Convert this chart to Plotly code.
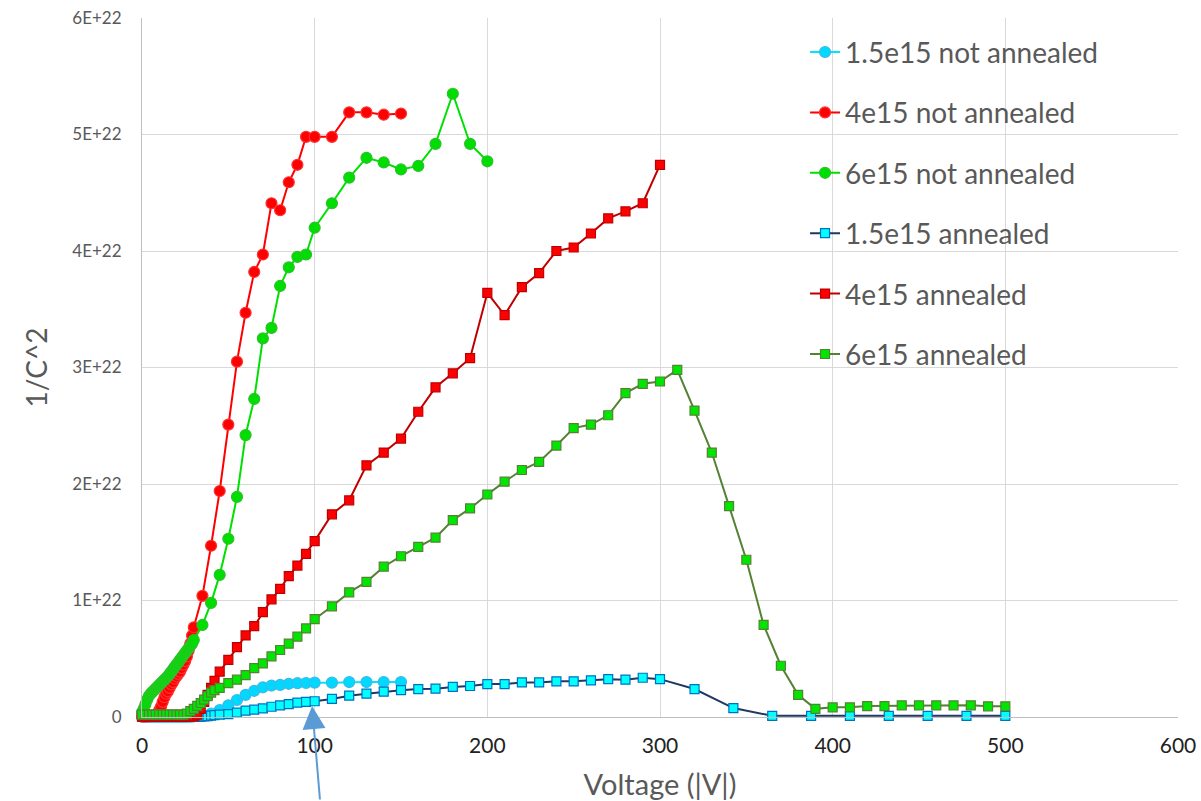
import plotly.graph_objects as go

# ---------------- data (1/C^2 in units of 1E22) ----------------
V_NA = list(range(0, 31)) + [35, 40, 45, 50, 55, 60, 65, 70, 75, 80, 85, 90, 95, 100,
                             110, 120, 130, 140, 150]
V_NA6 = V_NA + [160, 170, 180, 190, 200]

na15 = [0.002, 0.002, 0.002, 0.002, 0.002, 0.002, 0.002, 0.002, 0.002, 0.002, 0.002,
        0.002, 0.002, 0.002, 0.002, 0.002, 0.002, 0.002, 0.002, 0.002, 0.002, 0.002,
        0.002, 0.002, 0.002, 0.003, 0.003, 0.004, 0.004, 0.005, 0.006,
        0.012, 0.03, 0.06, 0.10, 0.146, 0.19, 0.225, 0.255, 0.27, 0.275, 0.285, 0.29,
        0.292, 0.295, 0.295, 0.30, 0.30, 0.30, 0.30]
na4 = [0.005, 0.005, 0.006, 0.006, 0.007, 0.008, 0.009, 0.012, 0.018, 0.03, 0.06,
       0.09, 0.13, 0.17, 0.20, 0.22, 0.25, 0.28, 0.30, 0.33, 0.35, 0.37, 0.39, 0.42,
       0.45, 0.48, 0.52, 0.57, 0.63, 0.70, 0.77,
       1.04, 1.47, 1.94, 2.51, 3.05, 3.47, 3.82, 3.97, 4.41, 4.35, 4.59, 4.74, 4.98,
       4.98, 4.98, 5.19, 5.19, 5.17, 5.18]
na6 = [0.04, 0.07, 0.11, 0.15, 0.18, 0.20, 0.215, 0.23, 0.245, 0.26, 0.275, 0.29,
       0.305, 0.32, 0.335, 0.35, 0.37, 0.39, 0.41, 0.43, 0.45, 0.47, 0.49, 0.51, 0.53,
       0.55, 0.57, 0.59, 0.61, 0.63, 0.66,
       0.79, 0.98, 1.22, 1.53, 1.89, 2.42, 2.73, 3.25, 3.34, 3.70, 3.86, 3.95, 3.97,
       4.20, 4.41, 4.63, 4.80, 4.76, 4.70, 4.73, 4.92, 5.35, 4.92, 4.77]

V_A = list(range(0, 44, 2)) + [45, 50, 55, 60, 65, 70, 75, 80, 85, 90, 95] + \
      list(range(100, 301, 10))
V_A15 = V_A + [320, 342.5, 365, 387.5, 410, 432.5, 455, 477.5, 500]
V_A6 = V_A + list(range(310, 501, 10))

a15 = [0.002, 0.002, 0.002, 0.002, 0.002, 0.002, 0.002, 0.002, 0.002, 0.002, 0.002,
       0.002, 0.002, 0.002, 0.002, 0.003, 0.003, 0.004, 0.005, 0.008, 0.012, 0.016,
       0.02, 0.025, 0.037, 0.055, 0.063, 0.074, 0.088, 0.10, 0.11, 0.123, 0.129,
       0.135, 0.155, 0.183, 0.20, 0.217, 0.23, 0.24, 0.243, 0.258, 0.266, 0.283,
       0.283, 0.297, 0.297, 0.306, 0.306, 0.315, 0.325, 0.32, 0.337, 0.325,
       0.24, 0.077, 0.01, 0.01, 0.01, 0.01, 0.01, 0.01, 0.01]
a4 = [0.003, 0.003, 0.003, 0.003, 0.003, 0.003, 0.003, 0.003, 0.003, 0.003, 0.003,
      0.003, 0.003, 0.003, 0.003, 0.005, 0.02, 0.07, 0.13, 0.19, 0.25, 0.31,
      0.39, 0.49, 0.60, 0.70, 0.78, 0.90, 1.01, 1.10, 1.21, 1.30, 1.40,
      1.51, 1.74, 1.86, 2.16, 2.27, 2.39, 2.62, 2.83, 2.95, 3.08, 3.64, 3.45, 3.69,
      3.81, 4.00, 4.03, 4.15, 4.28, 4.34, 4.41, 4.74]
a6 = [0.02, 0.02, 0.02, 0.02, 0.02, 0.02, 0.02, 0.02, 0.02, 0.02, 0.02, 0.02, 0.02,
      0.03, 0.05, 0.07, 0.095, 0.12, 0.15, 0.18, 0.21, 0.23,
      0.25, 0.29, 0.32, 0.36, 0.42, 0.46, 0.52, 0.575, 0.63, 0.69, 0.76,
      0.84, 0.95, 1.07, 1.16, 1.29, 1.38, 1.46, 1.54, 1.69, 1.79, 1.91, 2.02, 2.12,
      2.19, 2.33, 2.48, 2.51, 2.59, 2.78, 2.86, 2.88,
      2.98, 2.63, 2.27, 1.81, 1.35, 0.79, 0.44, 0.19, 0.07, 0.083, 0.083, 0.094,
      0.094, 0.10, 0.10, 0.10, 0.10, 0.10, 0.092, 0.092]

UNIT = 1e22
Y_TICKS = [0, 1, 2, 3, 4, 5, 6]
Y_TICKTEXT = ["0", "1E+22", "2E+22", "3E+22", "4E+22", "5E+22", "6E+22"]
X_TICKS = [0, 100, 200, 300, 400, 500, 600]

series = [
    ("1.5e15 not annealed", V_NA, na15, "circle", "#00E4FF", "#00D9FF", "#3FB8E6", 11),
    ("4e15 not annealed", V_NA, na4, "circle", "#FF0000", "#FF0000", "#FF3030", 11),
    ("6e15 not annealed", V_NA6, na6, "circle", "#00E000", "#00DD00", "#2EC02E", 11),
    ("1.5e15 annealed", V_A15, a15, "square", "#203864", "#00FFFF", "#0070C0", 9),
    ("4e15 annealed", V_A, a4, "square", "#C00000", "#FF0000", "#C00000", 9),
    ("6e15 annealed", V_A6, a6, "square", "#548235", "#00E600", "#548235", 9),
]

FONT = "Lato"
GRAY = "#595959"

fig = go.Figure()
for i, (name, xs, ys, sym, lc, fc, oc, ms) in enumerate(series):
    fig.add_trace(go.Scatter(
        x=xs, y=[v * UNIT for v in ys], name=name, mode="lines+markers",
        legendgroup="g%d" % i,
        line=dict(color=lc, width=2),
        marker=dict(symbol=sym, size=ms, color=fc, line=dict(color=oc, width=1.2)),
        cliponaxis=False,
    ))

# white panel behind the legend (hides gridlines there)
fig.add_shape(type="rect", xref="paper", yref="paper",
              x0=0.589, x1=1.01, y0=0.472, y1=1.01,
              fillcolor="white", line=dict(width=0), layer="between")

# arrow pointing at the 1.5e15 annealed curve near 100 V
fig.add_annotation(x=98.5, y=0.094 * UNIT, xref="x", yref="y", text="",
                   showarrow=True, ax=8, ay=100, arrowhead=2, arrowsize=2.3,
                   arrowwidth=2, arrowcolor="#5B9BD5", standoff=0)

fig.update_layout(
    width=1201, height=801,
    margin=dict(l=142, r=23, t=18, b=84, autoexpand=False),
    paper_bgcolor="white", plot_bgcolor="white",
    font=dict(family=FONT, color=GRAY),
    showlegend=True,
    legend=dict(x=0.640, y=0.9867, xanchor="left", yanchor="top",
                bgcolor="rgba(255,255,255,0)", font=dict(size=28, color=GRAY),
                tracegroupgap=21, itemwidth=30),
    xaxis=dict(range=[0, 600], tickvals=X_TICKS, showgrid=True, gridcolor="#D9D9D9",
               gridwidth=1, zeroline=False, showline=True, linecolor="#BFBFBF",
               ticks="", ticklabelstandoff=10, ticklabeloverflow="allow",
               automargin=False,
               tickfont=dict(size=21, color="#222222", family=FONT),
               title=dict(text="Voltage (|V|)", font=dict(size=29, color=GRAY),
                          standoff=21)),
    yaxis=dict(range=[0, 6 * UNIT], tickvals=[t * UNIT for t in Y_TICKS],
               ticktext=Y_TICKTEXT, showgrid=True, gridcolor="#D9D9D9", gridwidth=1,
               zeroline=False, showline=True, linecolor="#BFBFBF", ticks="",
               ticklabelstandoff=16, ticklabeloverflow="allow", automargin=False,
               tickfont=dict(size=17, color=GRAY, family=FONT),
               title=dict(text="1/C^2", font=dict(size=28, color=GRAY), standoff=16)),
)

fig.write_html(
    "out.html",
    config={"displayModeBar": False},
    post_script="document.body.style.margin='0px';"
                "document.documentElement.style.overflow='hidden';",
)
